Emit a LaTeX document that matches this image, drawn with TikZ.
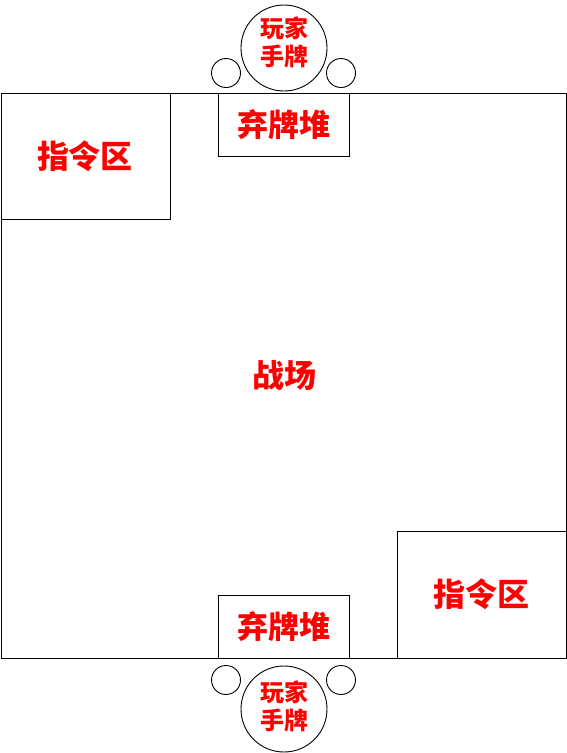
\documentclass[tikz,border=0pt]{standalone}
\usepackage{fontspec}
\newfontfamily\cjk{Noto Sans CJK SC}
\begin{document}
\begin{tikzpicture}[x=1pt,y=-1pt,
  box/.style={draw=black,line width=0.9pt,fill=white},
  ring/.style={draw=black,line width=0.9pt,fill=white,circle,inner sep=0pt},
  lbl/.style={text=red,font=\cjk\bfseries\fontsize{32}{34}\selectfont,inner sep=0pt},
  hand/.style={text=red,font=\cjk\bfseries\fontsize{24}{28}\selectfont,inner sep=0pt,align=center}]
\useasboundingbox (0,0) rectangle (567,753);
% main field
\draw[box] (1,93) rectangle (566,658);
\node[lbl] (field) at (284,375) {战场};
% command zones
\draw[box] (1,93) rectangle (170,219);
\node[lbl] (cmdA) at (85,156) {指令区};
\draw[box] (397,531) rectangle (566,658);
\node[lbl] (cmdB) at (481,594) {指令区};
% discard piles
\draw[box] (218,93) rectangle (349,156);
\node[lbl,font=\cjk\bfseries\fontsize{31}{32}\selectfont] (discA) at (284,125) {弃牌堆};
\draw[box] (218,595) rectangle (349,658);
\node[lbl,font=\cjk\bfseries\fontsize{31}{32}\selectfont] (discB) at (284,627) {弃牌堆};
% top player
\node[ring,minimum size=29pt] (sa1) at (226,73) {};
\node[ring,minimum size=29pt] (sa2) at (341,73) {};
\node[ring,minimum size=86pt] (handA) at (284,48) {};
\node[hand] (handAt) at (284,42) {玩家\\手牌};
% bottom player
\node[ring,minimum size=29pt] (sb1) at (226,680) {};
\node[ring,minimum size=29pt] (sb2) at (341,680) {};
\node[ring,minimum size=86pt] (handB) at (284,709) {};
\node[hand] (handBt) at (284,706) {玩家\\手牌};
\end{tikzpicture}
\end{document}
